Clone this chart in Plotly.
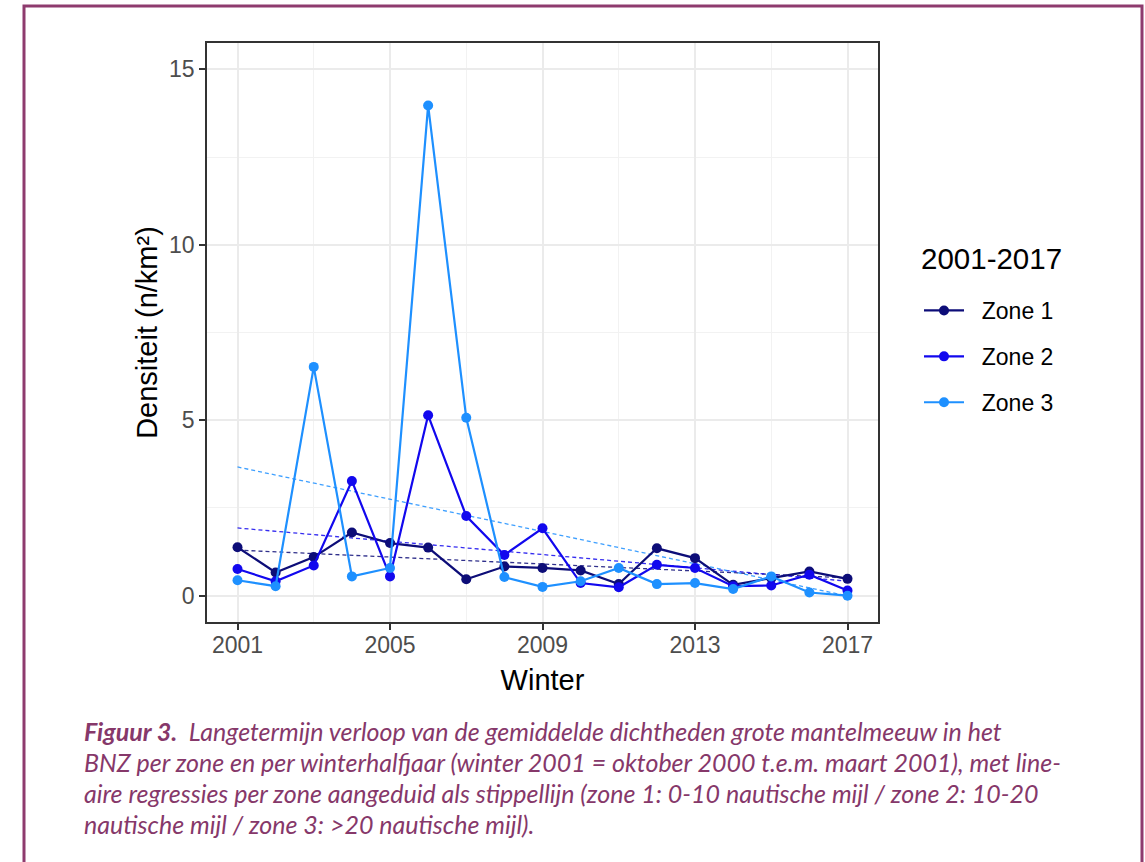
import numpy as np
import plotly.graph_objects as go

# ---- data ----
winters = list(range(2001, 2018))
zone1 = [1.38, 0.66, 1.10, 1.80, 1.50, 1.37, 0.47, 0.83, 0.79, 0.72, 0.33, 1.35, 1.07, 0.31, 0.50, 0.69, 0.48]
zone2 = [0.76, 0.41, 0.86, 3.27, 0.55, 5.14, 2.27, 1.16, 1.92, 0.36, 0.24, 0.88, 0.79, 0.27, 0.29, 0.60, 0.15]
zone3 = [0.44, 0.27, 6.52, 0.55, 0.79, 13.97, 5.07, 0.53, 0.25, 0.41, 0.79, 0.33, 0.36, 0.19, 0.55, 0.09, 0.00]
zone_names = ["Zone 1", "Zone 2", "Zone 3"]
zone_colors = ["#0d0d78", "#1208ee", "#1e90ff"]
x_ticks = [2001, 2005, 2009, 2013, 2017]
y_ticks = [0, 5, 10, 15]
legend_title = "2001-2017"
x_title = "Winter"
y_title = "Densiteit (n/km²)"
caption_lines = [
    "<b>Figuur 3.</b>\u00a0 Langetermijn verloop van de gemiddelde dichtheden grote mantelmeeuw in het",
    "BNZ per zone en per winterhalfjaar (winter 2001 = oktober 2000 t.e.m. maart 2001), met line-",
    "aire regressies per zone aangeduid als stippellijn (zone 1: 0-10 nautische mijl / zone 2: 10-20",
    "nautische mijl / zone 3: >20 nautische mijl).",
]

W, H = 1145, 862
L, R, T, B = 207, 878, 43, 622  # plot area in pixels
pw, ph = R - L, B - T


def px_x(p):
    return (p - L) / pw


def px_y(p):
    return (B - p) / ph


fig = go.Figure()

# regression lines (dashed), computed from the data
xs = np.array(winters, dtype=float)
for name, vals, col in zip(zone_names, [zone1, zone2, zone3], zone_colors):
    slope, icpt = np.polyfit(xs, np.array(vals), 1)
    ends = [winters[0], winters[-1]]
    fig.add_trace(go.Scatter(
        x=ends, y=[icpt + slope * e for e in ends], mode="lines",
        line=dict(color=col, width=1.3, dash="4px,3px"), opacity=0.85,
        showlegend=False, hoverinfo="skip", legendgroup=name))

for name, vals, col in zip(zone_names, [zone1, zone2, zone3], zone_colors):
    fig.add_trace(go.Scatter(
        x=winters, y=vals, mode="lines+markers", name="\u00a0\u00a0" + name, legendgroup=name,
        line=dict(color=col, width=2.2), marker=dict(color=col, size=10)))

sans = "Liberation Sans, Arial, sans-serif"
axis_font = dict(family=sans, size=23, color="#4D4D4D")
title_font = dict(family=sans, size=29, color="#000000")

fig.update_xaxes(
    range=[2000.2, 2017.8], tickvals=x_ticks, ticks="outside", ticklen=6, tickwidth=1.5,
    tickcolor="#333333", showline=True, linecolor="#333333", linewidth=1.5, mirror=True,
    showgrid=True, gridcolor="#EBEBEB", gridwidth=1.6, zeroline=False,
    minor=dict(tickvals=[2003, 2007, 2011, 2015], showgrid=True, gridcolor="#F2F2F2", gridwidth=1),
    ticklabelstandoff=-4,
    tickfont=axis_font, title=dict(text=x_title, font=title_font, standoff=12))
fig.update_yaxes(
    range=[-0.75, 15.75], tickvals=y_ticks, ticks="outside", ticklen=6, tickwidth=1.5,
    tickcolor="#333333", showline=True, linecolor="#333333", linewidth=1.5, mirror=True,
    showgrid=True, gridcolor="#EBEBEB", gridwidth=1.6, zeroline=False,
    minor=dict(tickvals=[2.5, 7.5, 12.5], showgrid=True, gridcolor="#F2F2F2", gridwidth=1),
    tickfont=axis_font, title=dict(text=y_title, font=title_font, standoff=3))

frame_col = "#8E3B6E"
shapes = [
    dict(type="path", xref="paper", yref="paper",
         path=f"M {px_x(24)} {px_y(875)} L {px_x(24)} {px_y(6)} L {px_x(1142)} {px_y(6)} L {px_x(1142)} {px_y(875)}",
         line=dict(color=frame_col, width=3), layer="above"),
]

annotations = [dict(
    text=legend_title, xref="paper", yref="paper", x=px_x(919), y=px_y(258),
    xanchor="left", yanchor="middle", showarrow=False,
    font=dict(family=sans, size=29.5, color="#000"))]
cap_y = [731, 762, 793, 824]
for txt, yy in zip(caption_lines, cap_y):
    annotations.append(dict(
        text=f"<i>{txt}</i>", xref="paper", yref="paper", x=px_x(82), y=px_y(yy),
        xanchor="left", yanchor="middle", showarrow=False, align="left",
        font=dict(family="Lato, Open Sans, sans-serif", size=25, color="#86386A")))

fig.update_layout(
    width=W, height=H, autosize=False,
    margin=dict(l=L, r=W - R, t=T, b=H - B),
    paper_bgcolor="white", plot_bgcolor="white",
    showlegend=True,
    legend=dict(
        font=dict(family=sans, size=23, color="#000"),
        x=px_x(919), y=px_y(289), xanchor="left", yanchor="top",
        tracegroupgap=13, itemwidth=40, bgcolor="rgba(0,0,0,0)"),
    shapes=shapes, annotations=annotations,
)

fig.write_html("out.html", config={"displayModeBar": False},
               post_script="document.body.style.margin='0';")
